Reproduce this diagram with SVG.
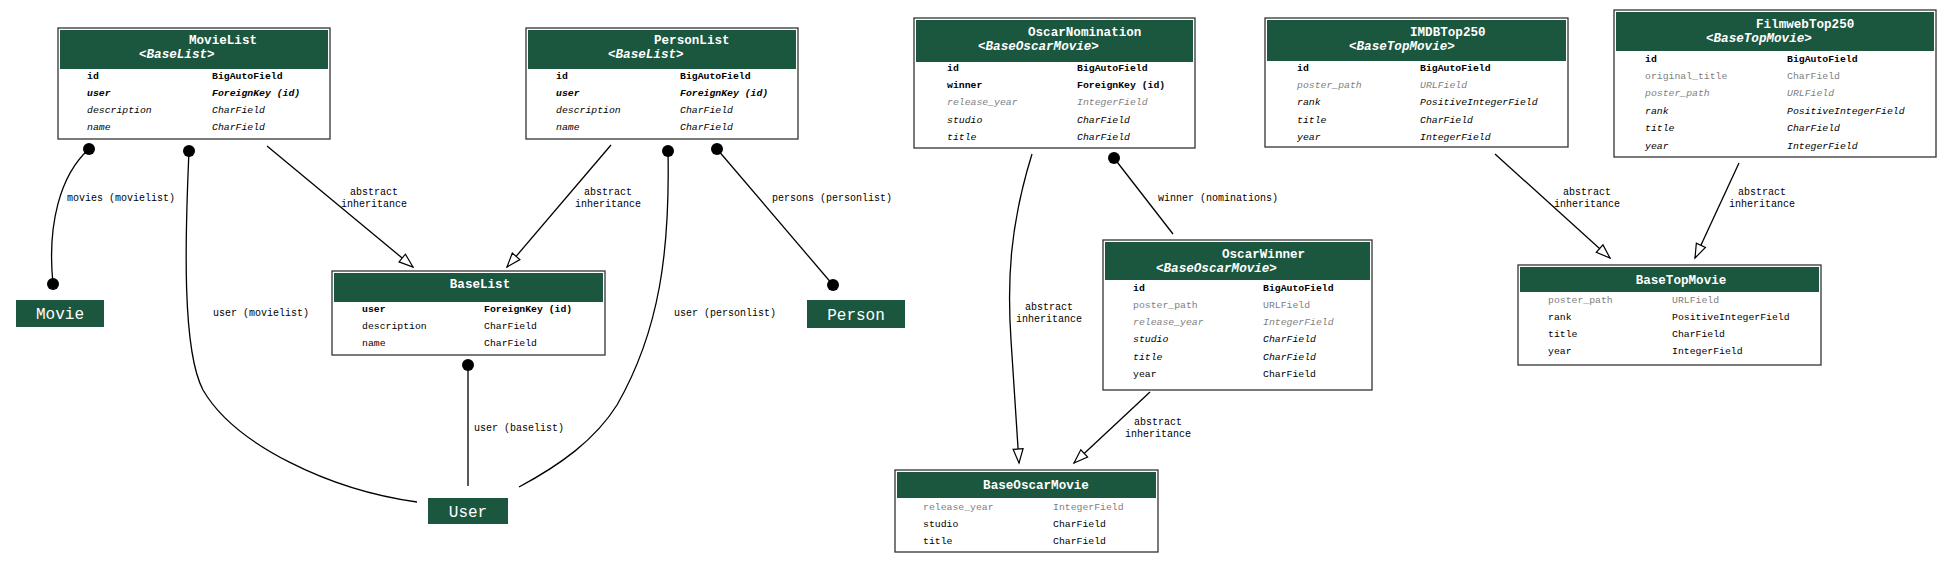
<svg xmlns="http://www.w3.org/2000/svg" width="1953" height="563" viewBox="0 0 1953 563">
<style>
text{font-family:"Liberation Mono","DejaVu Sans Mono",monospace;fill:#000}
.box{fill:#fff;stroke:#333;stroke-width:1.3}
.hd{fill:#1b563f}
.t{font-size:12.6px;font-weight:bold;fill:#fff}
.ti{font-style:italic}
.f{font-size:9.8px}
.b{font-weight:bold}
.i{font-style:italic}
.g{fill:#808080}
.ext{fill:#1b563f}
.et{font-size:16px;fill:#fff;text-anchor:middle}
.ln{fill:none;stroke:#000;stroke-width:1.3}
.lbl{font-size:10px}
.c{text-anchor:middle}
</style>
<defs>
<marker id="tri" markerUnits="userSpaceOnUse" markerWidth="20" markerHeight="14" viewBox="-16 -7 18 14" refX="0" refY="0" orient="auto">
<path d="M0,0 L-14,-5 L-14,5 z" fill="#fff" stroke="#000" stroke-width="1.2"/>
</marker>
<marker id="dot" markerUnits="userSpaceOnUse" markerWidth="14" markerHeight="14" viewBox="-7 -7 14 14" refX="0" refY="0">
<circle r="6" fill="#000"/>
</marker>
</defs>
<rect width="1953" height="563" fill="#fff"/>

<g id="connectors">
<path class="ln" d="M89,149 C60,175 47,225 53,284" marker-start="url(#dot)" marker-end="url(#dot)"/>
<text class="lbl" x="67" y="201">movies (movielist)</text>
<path class="ln" d="M189,151 C185,240 182,350 203,390 C235,445 330,490 417,502" marker-start="url(#dot)"/>
<text class="lbl" x="213" y="316">user (movielist)</text>
<path class="ln" d="M267,146 L413,267" marker-end="url(#tri)"/>
<text class="lbl c" x="374" y="195">abstract</text><text class="lbl c" x="374" y="207">inheritance</text>
<path class="ln" d="M611,145 L507,267" marker-end="url(#tri)"/>
<text class="lbl c" x="608" y="195">abstract</text><text class="lbl c" x="608" y="207">inheritance</text>
<path class="ln" d="M668,151 C670,250 660,330 617,405 C595,440 560,465 519,487" marker-start="url(#dot)"/>
<text class="lbl" x="674" y="316">user (personlist)</text>
<path class="ln" d="M717,149 L833,285" marker-start="url(#dot)" marker-end="url(#dot)"/>
<text class="lbl" x="772" y="201">persons (personlist)</text>
<path class="ln" d="M468,365 L468,486" marker-start="url(#dot)"/>
<text class="lbl" x="474" y="431">user (baselist)</text>
<path class="ln" d="M1032,154 C1010,225 1007,280 1011,340 L1019,463" marker-end="url(#tri)"/>
<text class="lbl c" x="1049" y="310">abstract</text><text class="lbl c" x="1049" y="322">inheritance</text>
<path class="ln" d="M1114,158 L1173,234" marker-start="url(#dot)"/>
<text class="lbl" x="1158" y="201">winner (nominations)</text>
<path class="ln" d="M1150,392 L1074,463" marker-end="url(#tri)"/>
<text class="lbl c" x="1158" y="425">abstract</text><text class="lbl c" x="1158" y="437">inheritance</text>
<path class="ln" d="M1495,154 L1610,258" marker-end="url(#tri)"/>
<text class="lbl c" x="1587" y="195">abstract</text><text class="lbl c" x="1587" y="207">inheritance</text>
<path class="ln" d="M1739,163 L1695,258" marker-end="url(#tri)"/>
<text class="lbl c" x="1762" y="195">abstract</text><text class="lbl c" x="1762" y="207">inheritance</text>
</g>

<g id="MovieList">
<rect class="box" x="58" y="28" width="272" height="111"/>
<rect class="hd" x="60" y="30" width="268" height="39"/>
<text class="t" x="189" y="44">MovieList</text>
<text class="t ti" x="139" y="57.5">&lt;BaseList&gt;</text>
<text class="f b" x="87" y="78.5">id</text><text class="f b" x="212" y="78.5">BigAutoField</text>
<text class="f b i" x="87" y="95.8">user</text><text class="f b i" x="212" y="95.8">ForeignKey (id)</text>
<text class="f i" x="87" y="113.1">description</text><text class="f i" x="212" y="113.1">CharField</text>
<text class="f i" x="87" y="130.4">name</text><text class="f i" x="212" y="130.4">CharField</text>
</g>

<g id="PersonList">
<rect class="box" x="526" y="28" width="272" height="111"/>
<rect class="hd" x="528" y="30" width="268" height="39"/>
<text class="t" x="654" y="44">PersonList</text>
<text class="t ti" x="608" y="57.5">&lt;BaseList&gt;</text>
<text class="f b" x="556" y="78.5">id</text><text class="f b" x="680" y="78.5">BigAutoField</text>
<text class="f b i" x="556" y="95.8">user</text><text class="f b i" x="680" y="95.8">ForeignKey (id)</text>
<text class="f i" x="556" y="113.1">description</text><text class="f i" x="680" y="113.1">CharField</text>
<text class="f i" x="556" y="130.4">name</text><text class="f i" x="680" y="130.4">CharField</text>
</g>

<g id="OscarNomination">
<rect class="box" x="914" y="18" width="281" height="130"/>
<rect class="hd" x="916" y="20" width="277" height="42"/>
<text class="t" x="1028" y="36">OscarNomination</text>
<text class="t ti" x="978" y="50">&lt;BaseOscarMovie&gt;</text>
<text class="f b" x="947" y="70.5">id</text><text class="f b" x="1077" y="70.5">BigAutoField</text>
<text class="f b" x="947" y="87.9">winner</text><text class="f b" x="1077" y="87.9">ForeignKey (id)</text>
<text class="f i g" x="947" y="105.3">release_year</text><text class="f i g" x="1077" y="105.3">IntegerField</text>
<text class="f i" x="947" y="122.7">studio</text><text class="f i" x="1077" y="122.7">CharField</text>
<text class="f i" x="947" y="140.1">title</text><text class="f i" x="1077" y="140.1">CharField</text>
</g>

<g id="IMDBTop250">
<rect class="box" x="1265" y="18" width="303" height="129"/>
<rect class="hd" x="1267" y="20" width="299" height="41"/>
<text class="t" x="1410" y="36">IMDBTop250</text>
<text class="t ti" x="1349" y="50">&lt;BaseTopMovie&gt;</text>
<text class="f b" x="1297" y="70.5">id</text><text class="f b" x="1420" y="70.5">BigAutoField</text>
<text class="f i g" x="1297" y="87.9">poster_path</text><text class="f i g" x="1420" y="87.9">URLField</text>
<text class="f i" x="1297" y="105.3">rank</text><text class="f i" x="1420" y="105.3">PositiveIntegerField</text>
<text class="f i" x="1297" y="122.7">title</text><text class="f i" x="1420" y="122.7">CharField</text>
<text class="f i" x="1297" y="140.1">year</text><text class="f i" x="1420" y="140.1">IntegerField</text>
</g>

<g id="FilmwebTop250">
<rect class="box" x="1614" y="10" width="322" height="147"/>
<rect class="hd" x="1616" y="12" width="318" height="39"/>
<text class="t" x="1756" y="28">FilmwebTop250</text>
<text class="t ti" x="1706" y="42">&lt;BaseTopMovie&gt;</text>
<text class="f b" x="1645" y="61.5">id</text><text class="f b" x="1787" y="61.5">BigAutoField</text>
<text class="f g" x="1645" y="78.9">original_title</text><text class="f g" x="1787" y="78.9">CharField</text>
<text class="f i g" x="1645" y="96.3">poster_path</text><text class="f i g" x="1787" y="96.3">URLField</text>
<text class="f i" x="1645" y="113.7">rank</text><text class="f i" x="1787" y="113.7">PositiveIntegerField</text>
<text class="f i" x="1645" y="131.1">title</text><text class="f i" x="1787" y="131.1">CharField</text>
<text class="f i" x="1645" y="148.5">year</text><text class="f i" x="1787" y="148.5">IntegerField</text>
</g>

<g id="BaseList">
<rect class="box" x="332" y="271" width="273" height="84"/>
<rect class="hd" x="334" y="273" width="269" height="29"/>
<text class="t c" x="480" y="288">BaseList</text>
<text class="f b" x="362" y="311.5">user</text><text class="f b" x="484" y="311.5">ForeignKey (id)</text>
<text class="f" x="362" y="328.8">description</text><text class="f" x="484" y="328.8">CharField</text>
<text class="f" x="362" y="346.1">name</text><text class="f" x="484" y="346.1">CharField</text>
</g>

<g id="OscarWinner">
<rect class="box" x="1103" y="240" width="269" height="150"/>
<rect class="hd" x="1105" y="242" width="265" height="38"/>
<text class="t" x="1222" y="257.5">OscarWinner</text>
<text class="t ti" x="1156" y="271.5">&lt;BaseOscarMovie&gt;</text>
<text class="f b" x="1133" y="290.5">id</text><text class="f b" x="1263" y="290.5">BigAutoField</text>
<text class="f g" x="1133" y="307.8">poster_path</text><text class="f g" x="1263" y="307.8">URLField</text>
<text class="f i g" x="1133" y="325.1">release_year</text><text class="f i g" x="1263" y="325.1">IntegerField</text>
<text class="f i" x="1133" y="342.4">studio</text><text class="f i" x="1263" y="342.4">CharField</text>
<text class="f i" x="1133" y="359.7">title</text><text class="f i" x="1263" y="359.7">CharField</text>
<text class="f" x="1133" y="377">year</text><text class="f" x="1263" y="377">CharField</text>
</g>

<g id="BaseTopMovie">
<rect class="box" x="1518" y="265" width="303" height="100"/>
<rect class="hd" x="1520" y="267" width="299" height="25"/>
<text class="t c" x="1681" y="284">BaseTopMovie</text>
<text class="f g" x="1548" y="302.5">poster_path</text><text class="f g" x="1672" y="302.5">URLField</text>
<text class="f" x="1548" y="319.8">rank</text><text class="f" x="1672" y="319.8">PositiveIntegerField</text>
<text class="f" x="1548" y="337.1">title</text><text class="f" x="1672" y="337.1">CharField</text>
<text class="f" x="1548" y="354.4">year</text><text class="f" x="1672" y="354.4">IntegerField</text>
</g>

<g id="BaseOscarMovie">
<rect class="box" x="895" y="470" width="263" height="82"/>
<rect class="hd" x="897" y="472" width="259" height="26"/>
<text class="t c" x="1036" y="489">BaseOscarMovie</text>
<text class="f g" x="923" y="509.5">release_year</text><text class="f g" x="1053" y="509.5">IntegerField</text>
<text class="f" x="923" y="526.8">studio</text><text class="f" x="1053" y="526.8">CharField</text>
<text class="f" x="923" y="544.1">title</text><text class="f" x="1053" y="544.1">CharField</text>
</g>

<g id="Movie">
<rect class="ext" x="16" y="300" width="88" height="27"/>
<text class="et" x="60" y="319">Movie</text>
</g>

<g id="Person">
<rect class="ext" x="807" y="300" width="98" height="28"/>
<text class="et" x="856" y="319.5">Person</text>
</g>

<g id="User">
<rect class="ext" x="428" y="498" width="80" height="26"/>
<text class="et" x="468" y="516.5">User</text>
</g>
</svg>
